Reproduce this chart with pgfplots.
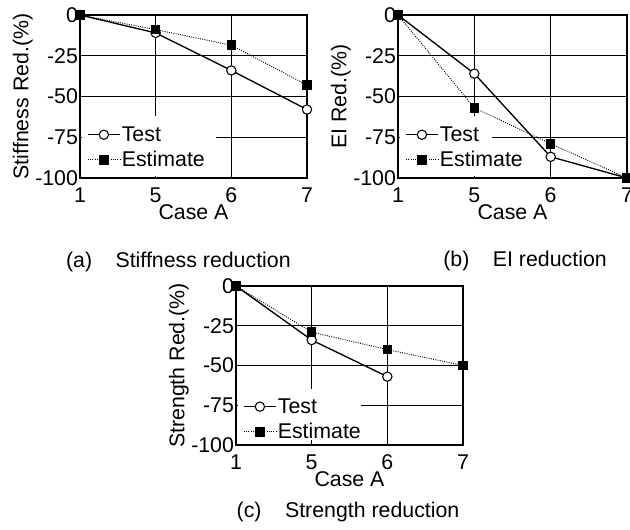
\documentclass[border=0pt]{standalone}
\usepackage{pgfplots}
\pgfplotsset{compat=1.18}
\usepackage{fontspec}
\setmainfont{Liberation Sans}

\pgfplotsset{
  redplot/.style={
    scale only axis,
    xmin=0, xmax=3, ymin=-100, ymax=0,
    xtick={0,1,2,3}, xticklabels={1,5,6,7},
    ytick={-100,-75,-50,-25,0},
    yticklabels={-100,-75,-50,-25,0},
    grid=major,
    grid style={black, line width=0.9pt},
    axis line style={line width=1.4pt},
    major tick length=0pt,
    clip=false,
    font=\fontsize{16}{18}\selectfont,
    xlabel={Case A},
    xlabel style={yshift=6pt},
    ylabel style={yshift=-5pt},
    xticklabel style={yshift=-4pt},
    yticklabel style={xshift=2pt},
    legend cell align=left,
    legend style={draw=none, fill=none, inner sep=1pt, row sep=4pt,
      font=\fontsize{16}{18}\selectfont,
      nodes={inner sep=1pt}},
    legend image code/.code={
      \draw[mark repeat=2,mark phase=2,#1] plot coordinates {(0cm,0cm) (0.42cm,0cm) (0.84cm,0cm)};},
  },
  testline/.style={black, line width=1pt, mark=*, mark options={fill=white, scale=1.75, line width=0.8pt}},
  estline/.style={black, line width=0.7pt, densely dotted, mark=square*, mark options={solid, fill=black, scale=1.6}},
}

\begin{document}
\begin{tikzpicture}
\useasboundingbox (0,0) rectangle (472.5pt,397.5pt);

% (a) stiffness
\begin{axis}[redplot, at={(60pt,264pt)}, width=170.25pt, height=122.25pt,
  ylabel={Stiffness Red.(\%)},
  legend style={at={(0.025,0.04)}, anchor=south west}]
\fill[white] (rel axis cs:0.008,0.015) rectangle (rel axis cs:0.6,0.38);
\addplot[testline] coordinates {(0,0) (1,-11) (2,-34) (3,-58)};
\addplot[estline] coordinates {(0,0) (1,-9) (2,-18.5) (3,-43)};
\legend{Test, Estimate}
\end{axis}

% (b) EI
\begin{axis}[redplot, at={(298.5pt,264pt)}, width=171.75pt, height=122.25pt,
  ylabel={EI Red.(\%)},
  legend style={at={(0.025,0.04)}, anchor=south west}]
\fill[white] (rel axis cs:0.008,0.2) rectangle (rel axis cs:0.41,0.38);
\fill[white] (rel axis cs:0.008,0.015) rectangle (rel axis cs:0.58,0.2);
\addplot[testline] coordinates {(0,0) (1,-36) (2,-87) (3,-100)};
\addplot[estline] coordinates {(0,0) (1,-57) (2,-79) (3,-100)};
\legend{Test, Estimate}
\end{axis}

% (c) strength
\begin{axis}[redplot, at={(177pt,63.75pt)}, width=170.25pt, height=119.25pt,
  ylabel={Strength Red.(\%)},
  legend style={at={(0.025,0.01)}, anchor=south west}]
\fill[white] (rel axis cs:0.008,0.03) rectangle (rel axis cs:0.55,0.35);
\addplot[testline] coordinates {(0,0) (1,-34) (2,-57)};
\addplot[estline] coordinates {(0,0) (1,-29) (2,-40) (3,-50)};
\legend{Test, Estimate}
\end{axis}

\begin{scope}[font=\fontsize{16}{18}\selectfont]
\node[anchor=west] at (46pt,201pt) {(a)\hspace{1.1em}Stiffness reduction};
\node[anchor=west] at (329pt,202pt) {(b)\hspace{1.1em}EI reduction};
\node[anchor=west] at (174pt,13.5pt) {(c)\hspace{1.1em}Strength reduction};
\end{scope}
\end{tikzpicture}
\end{document}
